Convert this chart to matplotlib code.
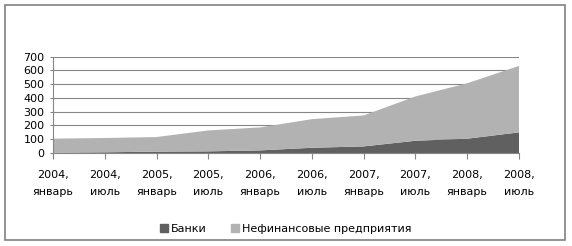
import matplotlib.pyplot as plt
from matplotlib.patches import Rectangle, Patch

# Data
periods = ["2004,\nянварь", "2004,\nиюль", "2005,\nянварь", "2005,\nиюль",
           "2006,\nянварь", "2006,\nиюль", "2007,\nянварь", "2007,\nиюль",
           "2008,\nянварь", "2008,\nиюль"]
banks = [2, 5, 10, 12, 19, 38, 48, 89, 104, 150]
nonfin = [102, 104, 106, 152, 167, 208, 225, 322, 403, 483]

dark = "#606060"
light = "#b2b2b2"
grid_col = "#868686"

plt.rcParams['font.family'] = ['DejaVu Sans']

fig = plt.figure(figsize=(5.72, 2.46), dpi=100)
ax = fig.add_axes([53 / 572, 1 - 153 / 246, (519 - 53) / 572, (153 - 56.7) / 246])

x = list(range(len(periods)))
ax.stackplot(x, banks, nonfin, colors=[dark, light], linewidth=0)

ax.set_xlim(0, len(periods) - 1)
ax.set_ylim(0, 700)
ax.set_yticks(range(0, 701, 100))
ax.set_xticks(x)
ax.set_xticklabels(periods, fontsize=8, linespacing=1.9)
ax.tick_params(axis='y', labelsize=8, length=2, color=grid_col, pad=4)
ax.tick_params(axis='x', length=4, color=grid_col, pad=8)

ax.grid(axis='y', color=grid_col, linewidth=0.8)
ax.set_axisbelow(True)
for s in ['top', 'right']:
    ax.spines[s].set_visible(False)
ax.spines['left'].set_color(grid_col)
ax.spines['bottom'].set_color(grid_col)

handles = [Patch(color=dark, label="Банки"),
           Patch(color=light, label="Нефинансовые предприятия")]
fig.legend(handles=handles, loc='center', bbox_to_anchor=(286 / 572, 1 - 229 / 246),
           ncol=2, frameon=False, fontsize=8, handlelength=0.7, handleheight=0.7,
           handletextpad=0.3, columnspacing=2.2)

# outer chart border
fig.patches.append(Rectangle((5 / 572, 6 / 246), 560 / 572, 235 / 246,
                             transform=fig.transFigure, fill=False,
                             edgecolor="#808080", linewidth=1.2))

fig.savefig("out.png", dpi=100)
